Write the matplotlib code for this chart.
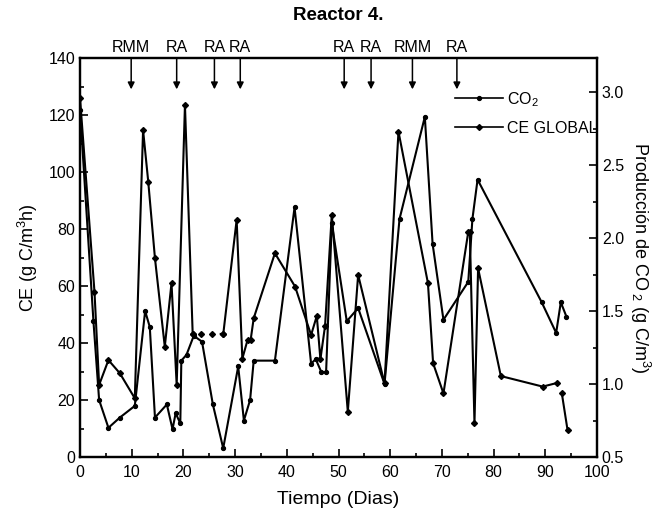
import numpy as np
import matplotlib
matplotlib.use("Agg")
import matplotlib.pyplot as plt
from matplotlib.lines import Line2D

plt.rcParams['font.family'] = ['Liberation Sans', 'DejaVu Sans']
plt.rcParams['mathtext.fontset'] = 'custom'
plt.rcParams['mathtext.rm'] = 'Liberation Sans'
plt.rcParams['mathtext.it'] = 'Liberation Sans:italic'
plt.rcParams['mathtext.bf'] = 'Liberation Sans:bold'

# ---- CE GLOBAL (left axis, g C/m3h) ----
ce_days = [0, 2.8, 3.7, 5.5, 7.7, 10.6, 12.2, 13.2, 14.5, 16.4, 17.7, 18.7, 20.3, 21.8,
           23.4, 25.5, 27.7, 30.3, 31.4, 32.4, 33.0, 33.6, 37.7, 41.6, 44.7, 45.8, 46.5,
           47.4, 48.7, 51.8, 53.8, 58.9, 61.6, 67.3, 68.3, 70.3, 75.1, 75.4, 76.3, 77.0,
           81.4, 89.5, 92.3, 93.2, 94.3]
ce_vals = [126, 58, 25.3, 34, 29.4, 20.6, 114.7, 96.6, 69.7, 38.7, 61, 25.3, 123.5, 43,
           43, 43, 43, 83.2, 34.5, 41, 41, 48.7, 71.5, 59.8, 42.8, 49.5, 34.3,
           46, 85, 15.9, 63.9, 25.8, 114.2, 61, 32.9, 22.3, 79, 79, 11.8, 66.2,
           28.4, 24.7, 26, 22.3, 9.5]
# estimated (dotted) stretch and missing link
ce_dotted_days = [21.8, 23.4, 25.5, 27.7]
ce_gap_after_day = 92.3

# ---- CO2 production (right axis, g C/m3) ----
co2_days = [0, 2.6, 3.7, 5.5, 7.7, 10.6, 12.6, 13.5, 14.5, 16.8, 17.9, 18.5, 19.4, 19.6,
            20.6, 22.0, 23.6, 25.7, 27.7, 30.6, 31.7, 32.9, 33.6, 37.7, 41.5, 44.7, 45.6,
            46.7, 47.6, 48.7, 51.6, 53.8, 58.9, 61.8, 66.7, 68.2, 70.3, 75.1, 75.9, 76.9,
            89.3, 92.1, 93.0, 94.1]
co2_vals = [2.88, 1.43, 0.89, 0.70, 0.77, 0.85, 1.50, 1.39, 0.77, 0.86, 0.69, 0.80, 0.73, 1.16,
            1.20, 1.33, 1.29, 0.86, 0.56, 1.12, 0.75, 0.89, 1.16, 1.16, 2.21, 1.14, 1.17,
            1.08, 1.08, 2.10, 1.43, 1.52, 1.00, 2.13, 2.83, 1.96, 1.44, 1.70, 2.13, 2.40,
            1.56, 1.35, 1.56, 1.46]

# ---- events ----
event_days = [9.9, 18.7, 26.0, 31.0, 51.1, 56.3, 64.3, 72.9]
event_labels = ['RMM', 'RA', 'RA', 'RA', 'RA', 'RA', 'RMM', 'RA']

fig = plt.figure(figsize=(6.71, 5.21), dpi=100)
ax = fig.add_axes([80/671, 1-457/521, (597-80)/671, (457-58)/521])
ax2 = ax.twinx()

ce_d = np.array(ce_days, float)
ce_v = np.array(ce_vals, float)
d0, d1 = ce_dotted_days[0], ce_dotted_days[-1]
seg1 = ce_d <= d0
seg2 = (ce_d >= d1) & (ce_d <= ce_gap_after_day)
seg3 = ce_d > ce_gap_after_day
lw = 1.5
for m in (seg1, seg2, seg3):
    ax.plot(ce_d[m], ce_v[m], color='black', lw=lw, marker='D', ms=3.0, zorder=3)
dm = (ce_d >= d0) & (ce_d <= d1)
ax.plot(ce_d[dm], ce_v[dm], color='black', lw=1.6, ls=(0, (1, 3)), marker='D', ms=3.0, zorder=3)

ax2.plot(co2_days, co2_vals, color='black', lw=lw, marker='o', ms=2.8, zorder=3)

ax.set_xlim(0, 100)
ax.set_ylim(0, 140)
ax2.set_ylim(0.5, 0.5 + 140 * 2.85 / 146)

ax.set_xticks(np.arange(0, 101, 10))
ax.set_xticks(np.arange(0, 101, 5), minor=True)
ax.set_yticks(np.arange(0, 141, 20))
ax.set_yticks(np.arange(0, 141, 10), minor=True)
ax2.set_yticks(np.arange(0.5, 3.01, 0.5))
ax2.set_yticks(np.arange(0.5, 3.2, 0.25), minor=True)
ax2.set_yticklabels([f"{v:.1f}" for v in np.arange(0.5, 3.01, 0.5)])

for a in (ax, ax2):
    a.tick_params(which='both', direction='in', labelsize=11.5, width=1.2, colors='black')
    a.tick_params(which='major', length=6)
    a.tick_params(which='minor', length=3)
    for s in a.spines.values():
        s.set_linewidth(1.6)
ax.tick_params(axis='x', pad=6)

ax.set_xlabel('Tiempo (Dias)', fontsize=14, labelpad=8)
ax.set_ylabel('CE (g C/m$^3$h)', fontsize=13, labelpad=6)
ax2.set_ylabel('Producción de CO$_{\\ 2}$ (g C/m$^3$)', fontsize=13, rotation=270, labelpad=20)
ax.set_title('Reactor 4.', fontsize=13.5, fontweight='bold', pad=27)

for d, lab in zip(event_days, event_labels):
    ax.annotate('', xy=(d, 129), xytext=(d, 140),
                arrowprops=dict(arrowstyle='-|>', color='black', lw=1.1,
                                mutation_scale=10, shrinkA=0, shrinkB=0),
                annotation_clip=False)
    ax.text(d, 141.2, lab, ha='center', va='bottom', fontsize=11.5)

handles = [Line2D([], [], color='black', lw=1.2, marker='o', ms=2.8),
           Line2D([], [], color='black', lw=1.2, marker='D', ms=3.0)]
leg = fig.legend(handles, ['CO$_2$', 'CE GLOBAL'], loc='upper left',
                 bbox_to_anchor=(455/671, 1-90/521), frameon=False, fontsize=11.5,
                 handlelength=3.0, handletextpad=0.25, labelspacing=0.75,
                 borderpad=0, borderaxespad=0)

fig.savefig('out.png', dpi=100)
